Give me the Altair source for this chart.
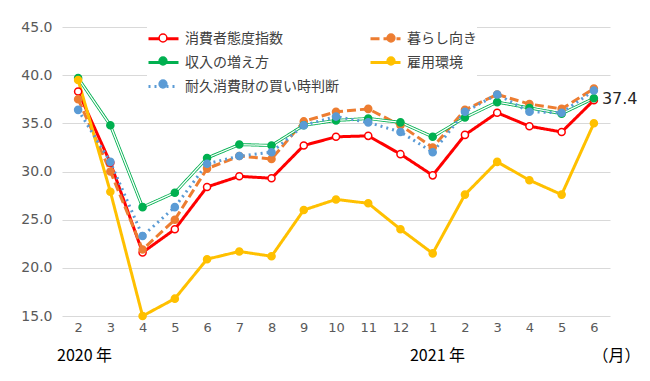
import altair as alt
import pandas as pd

months = ["2", "3", "4", "5", "6", "7", "8", "9", "10", "11", "12", "1", "2", "3", "4", "5", "6"]
series_names = ["消費者態度指数", "暮らし向き", "収入の増え方", "雇用環境", "耐久消費財の買い時判断"]
consumer = [38.3, 30.9, 21.6, 24.0, 28.4, 29.5, 29.3, 32.7, 33.6, 33.7, 31.8, 29.6, 33.8, 36.1, 34.7, 34.1, 37.4]
living = [37.5, 30.0, 21.9, 25.0, 30.3, 31.6, 31.3, 35.2, 36.2, 36.5, 34.8, 32.5, 36.4, 38.0, 37.0, 36.5, 38.6]
income = [39.7, 34.8, 26.3, 27.8, 31.4, 32.8, 32.7, 34.8, 35.3, 35.5, 35.1, 33.6, 35.6, 37.2, 36.6, 36.0, 37.6]
employment = [39.5, 27.9, 15.0, 16.8, 20.9, 21.7, 21.2, 26.0, 27.1, 26.7, 24.0, 21.5, 27.6, 31.0, 29.1, 27.6, 35.0]
durables = [36.4, 31.0, 23.3, 26.3, 30.8, 31.6, 32.0, 34.8, 35.7, 35.1, 34.1, 32.0, 36.2, 38.0, 36.2, 36.1, 38.4]
year_labels = ["2020 年", "2021 年", "（月）"]
year_pos = [0.2, 11.15, 16.7]

colors = ["#FF0000", "#ED7D31", "#00B050", "#FFC000", "#5B9BD5"]
fills = ["#FFFFFF", "#ED7D31", "#00B050", "#FFC000", "#5B9BD5"]
dashes = [[1, 0], [9, 4], [1, 0], [1, 0], [2, 4]]
widths = [3, 3, 4.5, 3, 3]

# point-legend keys differ (trailing space) so the two legends are not merged
point_names = [n + " " for n in series_names]

idx = list(range(len(months)))
rows = []
for name, pname, vals in zip(series_names, point_names, [consumer, living, income, employment, durables]):
    for i, v in zip(idx, vals):
        rows.append({"idx": i, "value": v, "series": name, "series_p": pname})
df = pd.DataFrame(rows)

W, H = 548, 289
label_expr = "[" + ",".join(f"'{m}'" for m in months) + "][datum.value]"

x_axis = alt.Axis(values=idx, labelExpr=label_expr, grid=False, domain=False, ticks=False,
                  labelOverlap=False, labelPadding=5, labelFontSize=13, labelColor="#595959",
                  labelFont="DejaVu Sans", title=None)
x_scale = alt.Scale(domain=[-0.5, 16.5], nice=False, zero=False)
x = alt.X("idx:Q", scale=x_scale, axis=x_axis)
y = alt.Y("value:Q", scale=alt.Scale(domain=[15, 45], nice=False, zero=False),
          axis=alt.Axis(values=[15, 20, 25, 30, 35, 40, 45], format=".1f", grid=True,
                        gridColor="#D9D9D9", gridWidth=1, domain=False, ticks=False,
                        labelPadding=10, labelFontSize=14, labelColor="#595959",
                        labelFont="DejaVu Sans", title=None))

common_leg = dict(orient="none", legendX=85, legendY=-5, columns=2,
                  rowPadding=-2.5, padding=0, title=None, symbolSize=900, labelOffset=5,
                  direction="horizontal",
                  labelFont="Noto Sans CJK JP", labelFontSize=14, labelColor="#404040",
                  labelLimit=300)
leg_line = alt.Legend(symbolType="stroke", fillColor="white", columnPadding=25, **common_leg)
circle_path = "M -1,0 M 1,0 M -0.26,0 A 0.26,0.26 0 1,1 0.26,0 A 0.26,0.26 0 1,1 -0.26,0 Z"
leg_pt = alt.Legend(symbolType=circle_path, labelExpr="''", symbolStrokeWidth=1.5,
                    columnPadding=189, **common_leg)

color_enc = alt.Color("series:N", scale=alt.Scale(domain=series_names, range=colors), legend=leg_line)
dash_enc = alt.StrokeDash("series:N", scale=alt.Scale(domain=series_names, range=dashes), legend=leg_line)
width_enc = alt.StrokeWidth("series:N", scale=alt.Scale(domain=series_names, range=widths), legend=leg_line)

base = alt.Chart(df)
layers = []
for name in series_names:
    layers.append(
        base.transform_filter(alt.datum.series == name).mark_line(strokeJoin="round").encode(
            x=x, y=y, color=color_enc, strokeDash=dash_enc, strokeWidth=width_enc, order="idx:Q")
    )
    if name == "収入の増え方":
        layers.append(
            base.transform_filter(alt.datum.series == name).mark_line(
                color="white", strokeWidth=1.3, strokeJoin="round").encode(x=x, y=y, order="idx:Q")
        )

points = base.mark_point(filled=True, size=50, strokeWidth=1.5, opacity=1).encode(
    x=x, y=y,
    fill=alt.Fill("series_p:N", scale=alt.Scale(domain=point_names, range=fills), legend=leg_pt),
    stroke=alt.Stroke("series_p:N", scale=alt.Scale(domain=point_names, range=colors), legend=leg_pt),
)
layers.append(points)

end_df = pd.DataFrame({"idx": [idx[-1]], "value": [consumer[-1]], "label": [f"{consumer[-1]:.1f}"]})
end_text = alt.Chart(end_df).mark_text(align="left", baseline="middle", dx=8, dy=-1,
                                       fontSize=16, font="DejaVu Sans", color="#262626").encode(
    x=x, y=y, text="label:N")
layers.append(end_text)

yl_df = pd.DataFrame({"idx": year_pos, "label": year_labels})
year_text = alt.Chart(yl_df).mark_text(align="center", baseline="middle", fontSize=16,
                                       font="Noto Sans CJK JP", color="#000000").encode(
    x=x, y=alt.value(H + 40), text="label:N")
layers.append(year_text)

chart = alt.layer(*layers).properties(
    width=W, height=H,
    autosize=alt.AutoSizeParams(type="none"),
    padding={"left": 54, "top": 19, "right": 32, "bottom": 50},
    background="white",
).configure_view(stroke=None).configure_axisX(labelOverlap=False)

chart.save("out.html", embed_options={"renderer": "svg", "actions": False})
